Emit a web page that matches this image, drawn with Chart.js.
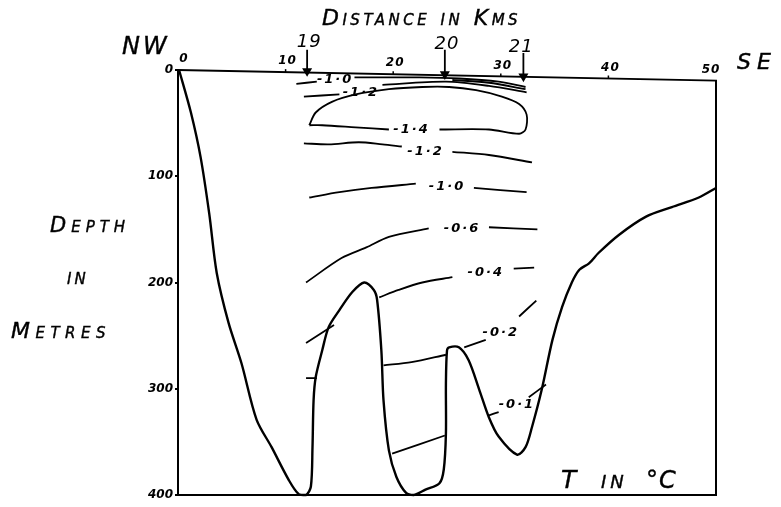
<!DOCTYPE html>
<html>
<head>
<meta charset="utf-8">
<script src="https://cdn.jsdelivr.net/npm/chart.js@4.4.1/dist/chart.umd.min.js"></script>
<style>
  html, body { margin: 0; padding: 0; background: #fff; }
  #wrap { position: relative; width: 781px; height: 507px; overflow: hidden; }
  canvas { position: absolute; left: 0; top: 0; }
  .t { position: absolute; font-family: "DejaVu Sans", sans-serif; font-style: italic;
       font-variant: small-caps; color: #000; line-height: 1; white-space: nowrap;
       -webkit-text-stroke: 0.4px #000; }
</style>
</head>
<body>
<div id="wrap">
  <canvas id="c" width="781" height="507"></canvas>
  <div class="t" style="left:322px;top:7px;font-size:22px;letter-spacing:3.5px;">Distance in Kms</div>
  <div class="t" style="left:122px;top:34px;font-size:24px;letter-spacing:3px;">NW</div>
  <div class="t" style="left:737px;top:51px;font-size:22px;letter-spacing:6px;">SE</div>
  <div class="t" style="left:50px;top:215px;font-size:21px;letter-spacing:5px;">Depth</div>
  <div class="t" style="left:67px;top:266px;font-size:22px;letter-spacing:3px;">in</div>
  <div class="t" style="left:11px;top:320px;font-size:22px;letter-spacing:5.5px;">Metres</div>
  <div class="t" style="left:561px;top:467px;font-size:25px;">T</div>
  <div class="t" style="left:601px;top:467px;font-size:25px;letter-spacing:4px;">in</div>
  <div class="t" style="left:646px;top:468px;font-size:24px;letter-spacing:1px;">°C</div>
</div>
<script>
// ---------- data (distance km, depth m) ----------
const xTicks = [0, 10, 20, 30, 40, 50];
const yTicks = [0, 100, 200, 300, 400];

const surface = [{x:0, y:0}, {x:50, y:10}];
const frame = [{x:0, y:0}, {x:50, y:10}, {x:50, y:400}, {x:0, y:400}];

const seabed = [
  [0.1,0],[1.2,40],[2.1,82],[2.9,135],[3.6,191],[4.7,238],[5.9,276],[7.3,329],[8.7,355],
  [10.3,386],[11.2,399],[11.9,400],[12.35,392],[12.5,355],[12.6,311],[12.8,289],[13.4,264],[14.0,242],
  [15.0,226],[16.2,209],[17.3,200],[18.2,207],[18.5,216],[18.9,264],[19.1,311],[19.6,358],
  [20.3,383],[21.2,398],[21.9,400],[23.0,395],[24.3,389],[24.7,376],[24.9,342],[24.9,295],
  [25.0,264],[25.2,261],[26.1,261],[27.0,273],[28.0,301],[28.9,327],[29.8,345],[31.5,362],
  [32.3,355],[32.9,336],[33.8,301],[34.8,254],[35.7,223],[36.6,200],[37.3,188],[38.2,182],
  [39.1,172],[41.0,155],[43.5,138],[45.9,129],[48.4,120],[50,111]
];

// isotherms (null = gap for the label)
const iso10top = [[11.0,13],[12.9,11],null,[16.4,7],[22.4,7],[26.1,8],[29.8,11],[32.3,16]];
const iso12top = [[11.7,25],[15.0,23],null,[19.0,14],[24.9,11],[28.9,15],[32.4,21]];
const iso12mid = [[25.5,9.4],[28.9,12],[32.3,18]];
const iso14 = [[12.2,52],[12.8,40],[14.3,30],[16.5,23],[19.6,18],[22.7,16],[25.2,16],[27.7,19],
  [30.1,25],[31.7,32],[32.4,42],[32.3,56],[31.7,60],[28.9,56],[24.3,56],null,[19.6,56],
  [16.5,54],[13.4,52],[12.2,52]];
const iso12 = [[11.7,69],[14.0,70],[16.8,68],[19.0,70],[20.8,72],null,[25.5,77],[28.9,80],[32.9,87]];
const iso10 = [[12.2,120],[15.0,115],[18.0,111],[22.1,107],null,[27.5,111],[32.4,115]];
const iso06 = [[11.9,200],[15.2,177],[17.5,167],[19.6,157],[23.3,149],null,[28.9,148],[33.4,150]];
const iso04a = [[11.9,257],[14.5,240]];
const iso04b = [[18.7,214],[20.5,207],[22.7,200],[25.5,195],null,[31.2,187],[33.1,186]];
const iso02a = [[11.9,290],[12.9,290]];
const iso02b = [[19.1,278],[21.7,275],[24.9,268]];
const iso02c = [[26.6,261],[28.6,254],null,[31.7,232],[33.3,217]];
const iso01a = [[19.9,361],[24.8,344]];
const iso01b = [[28.9,325],[29.8,322],null,[32.6,308],[34.2,296]];

const contourLabels = [
  {x:14.6, y:9,   t:'-1·0'}, {x:17.0, y:21,  t:'-1·2'}, {x:21.7, y:56,  t:'-1·4'},
  {x:23.0, y:77,  t:'-1·2'}, {x:25.0, y:110, t:'-1·0'}, {x:26.4, y:149, t:'-0·6'},
  {x:28.6, y:191, t:'-0·4'}, {x:30.0, y:247, t:'-0·2'}, {x:31.5, y:315, t:'-0·1'}
];

const stationNames = ['19', '20', '21'];
const stationKm = [12.0, 24.8, 32.1];
const stationTail = [-19, -19, -16];
const stationTip = [1, 4, 6];
const stationLabelKm = [12.2, 25.0, 31.9];
const stationLabelDepth = [-26, -24, -21];

// ---------- build ----------
const pts = arr => arr.map(p => p === null ? {x: null, y: null} : {x: p[0], y: p[1]});
const lineDs = (arr, w, t) => ({
  data: pts(arr), borderColor: '#000', borderWidth: w, pointRadius: 0, tension: t,
  fill: false, clip: false, spanGaps: false
});

const datasets = [
  {data: frame, borderColor: '#000', borderWidth: 2, pointRadius: 0, tension: 0, clip: false},
  lineDs(seabed, 2.4, 0.3),
  ...[iso10top, iso12top, iso12mid, iso14, iso12, iso10, iso06, iso04a, iso04b,
      iso02a, iso02b, iso02c, iso01a, iso01b].map(a => lineDs(a, 1.8, 0.3))
];
stationNames.forEach((n, i) => {
  datasets.push({
    data: [{x: stationKm[i], y: stationTail[i]}, {x: stationKm[i], y: stationTip[i]}],
    borderColor: '#000', backgroundColor: '#000', borderWidth: 1.8,
    pointStyle: 'triangle', rotation: 180, pointRadius: [0, 4], tension: 0, clip: false
  });
});

const surfaceDepthAt = v => surface[0].y + (surface[1].y - surface[0].y) * (v - surface[0].x) / (surface[1].x - surface[0].x);

const textPlugin = {
  id: 'sectionText',
  afterDatasetsDraw(chart) {
    const {ctx} = chart;
    const xs = chart.scales.x, ys = chart.scales.y;
    ctx.save();
    ctx.fillStyle = '#000';
    ctx.strokeStyle = '#000';
    ctx.textAlign = 'center';
    ctx.textBaseline = 'middle';
    ctx.font = 'italic bold 13px "DejaVu Sans"';
    try { ctx.letterSpacing = '2px'; } catch (e) {}
    contourLabels.forEach(l => ctx.fillText(l.t, xs.getPixelForValue(l.x), ys.getPixelForValue(l.y)));
    ctx.font = 'italic 18px "DejaVu Sans"';
    try { ctx.letterSpacing = '1px'; } catch (e) {}
    stationNames.forEach((n, i) => ctx.fillText(n, xs.getPixelForValue(stationLabelKm[i]), ys.getPixelForValue(stationLabelDepth[i])));
    ctx.font = 'italic bold 12px "DejaVu Sans"';
    try { ctx.letterSpacing = '1px'; } catch (e) {}
    ctx.lineWidth = 1.5;
    xTicks.forEach(v => {
      const px = xs.getPixelForValue(v);
      const py = ys.getPixelForValue(surfaceDepthAt(v));
      const shift = v === xTicks[0] ? 6 : (v === xTicks[xTicks.length - 1] ? -5 : 2);
      ctx.fillText(String(v), px + shift, py - 11);
      if (v !== xTicks[0] && v !== xTicks[xTicks.length - 1]) {
        ctx.beginPath(); ctx.moveTo(px, py); ctx.lineTo(px, py - 3); ctx.stroke();
      }
    });
    ctx.restore();
  }
};

new Chart(document.getElementById('c'), {
  type: 'line',
  data: {datasets},
  options: {
    responsive: false,
    animation: false,
    devicePixelRatio: 1,
    layout: {padding: {left: 0, right: 65, top: 70, bottom: 12}},
    plugins: {legend: {display: false}, tooltip: {enabled: false}},
    scales: {
      x: {type: 'linear', min: xTicks[0], max: xTicks[xTicks.length - 1], display: false},
      y: {
        type: 'linear', min: yTicks[0], max: yTicks[yTicks.length - 1], reverse: true,
        afterFit: s => { s.width = 178; },
        afterBuildTicks: s => { s.ticks = yTicks.map(v => ({value: v})); },
        grid: {drawOnChartArea: false, drawTicks: true, tickLength: 3, color: '#000', lineWidth: 2},
        border: {display: true, color: '#000', width: 2},
        ticks: {color: '#000', padding: 2, font: {family: 'DejaVu Sans', style: 'italic', weight: 'bold', size: 12}}
      }
    }
  },
  plugins: [textPlugin]
});
</script>
</body>
</html>
